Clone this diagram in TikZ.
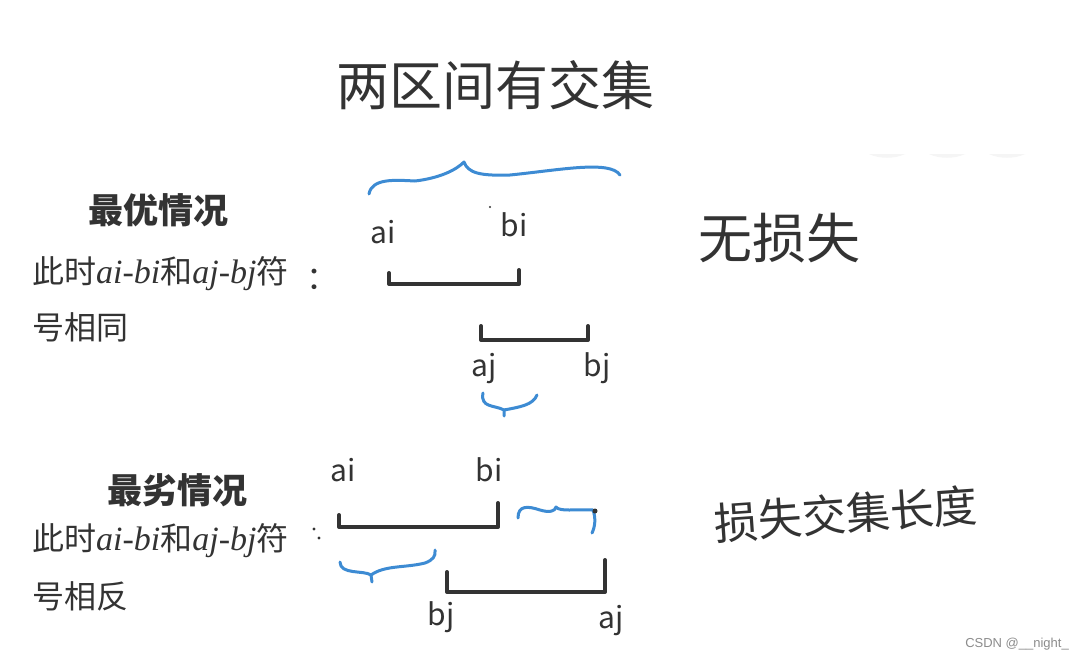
\documentclass[tikz,border=0pt]{standalone}
\usepackage{fontspec}
\setmainfont{Noto Sans CJK SC}
\newfontfamily\cjk{Noto Sans CJK SC}
\newfontfamily\serifit{Liberation Serif}
\newfontfamily\wmfont{Liberation Sans}
\usetikzlibrary{positioning}

\definecolor{ink}{HTML}{333333}
\definecolor{pen}{HTML}{3D8BD3}

\tikzset{
  title/.style={font=\cjk\fontsize{53}{53}\selectfont, text=ink, inner sep=0},
  head/.style={font=\cjk\bfseries\fontsize{35}{35}\selectfont, text=ink, inner sep=0},
  body/.style={font=\cjk\fontsize{32}{32}\selectfont, text=ink, anchor=west, inner sep=0},
  hand/.style={font=\cjk\fontsize{30}{30}\selectfont, text=ink, inner sep=0},
  interval/.style={draw=ink, line width=4pt, line cap=round, line join=round},
  brace/.style={draw=pen, line width=3pt, line cap=round, line join=round},
}
\newcommand{\vr}[1]{{\serifit\itshape\fontsize{34}{34}\selectfont #1}}

\begin{document}
\begin{tikzpicture}[x=1pt,y=-1pt]
\useasboundingbox[fill=white] (0,0) rectangle (1083,661);

% title
\node (title) at (495,85) [title] {两区间有交集};

% faint shadows top right
\foreach \x in {887,947,1007}{
\fill[black!4] (\x-18,154) .. controls (\x-8,159) and (\x+8,159) .. (\x+18,154) -- cycle;
}

% left texts
\node (best) at (158,210) [head] {最优情况};
\node (bestl1) at (32,274) [body] {此时\vr{ai-bi}和\vr{aj-bj}符};
\node (bestl2) at (32,327) [body] {号相同};
\node (colon1) at (322,279) [body, anchor=center] {：};
\node (worst) at (177,490) [head] {最劣情况};
\node (worstl1) at (32,541) [body] {此时\vr{ai-bi}和\vr{aj-bj}符};
\node (worstl2) at (32,596) [body] {号相反};
\fill[ink] (314,529) circle (1.6) (319,538) circle (1.6);

% intervals
\foreach \xa/\ta/\yb/\xb/\tb in {389/273/284/519/270, 481/326/340/588/326, 339/515/527/498/503, 447/572/592/605/560}{
\draw[interval] (\xa,\ta) -- (\xa,\yb) -- (\xb,\yb) -- (\xb,\tb);
}

% endpoint labels
\node (ai1) at (383,232) [hand] {ai};
\node (bi1) at (514,225) [hand] {bi};
\fill[ink] (490,207) circle (1.2);
\node (aj1) at (484,368) [hand] {aj};
\node (bj1) at (597,368) [hand] {bj};
\node (ai2) at (343,470) [hand] {ai};
\node (bi2) at (489,470) [hand] {bi};
\node (bj2) at (441,617) [hand] {bj};
\node (aj2) at (611,620) [hand] {aj};

% blue braces
\draw[brace] (369,194) .. controls (372,178) and (395,180) .. (415,181)
  .. controls (440,178) and (456,170) .. (464,162)
  .. controls (468,173) and (480,176) .. (510,175)
  .. controls (560,170) and (610,160) .. (620,175);
\draw[brace] (483,393) .. controls (480,408) and (495,405) .. (504,410) -- (504,416);
\draw[brace] (504,410) .. controls (520,407) and (533,405) .. (537,395);
\draw[brace] (518,518) .. controls (518,505) and (528,506) .. (540,510)
  .. controls (550,513) and (555,511) .. (556,507)
  .. controls (560,512) and (575,509) .. (593,510)
  .. controls (596,518) and (595,527) .. (592,533);
\fill[ink] (595,511) circle (2.5);
\draw[brace] (340,562) .. controls (340,575) and (364,570) .. (371,575) -- (372,582);
\draw[brace] (371,575) .. controls (385,565) and (405,568) .. (425,563)
  .. controls (433,560) and (436,556) .. (435,550);

% handwritten notes
\node (noloss) at (779,238) [hand, font=\cjk\fontsize{54}{54}\selectfont] {无损失};
\node (loss) at (846,514) [hand, font=\cjk\fontsize{44}{44}\selectfont, rotate=4] {损失交集长度};

\node (wm) at (1017,644) [font=\wmfont\fontsize{13}{13}\selectfont, text=black!45, inner sep=0] {CSDN @\_\_night\_};
\end{tikzpicture}
\end{document}
